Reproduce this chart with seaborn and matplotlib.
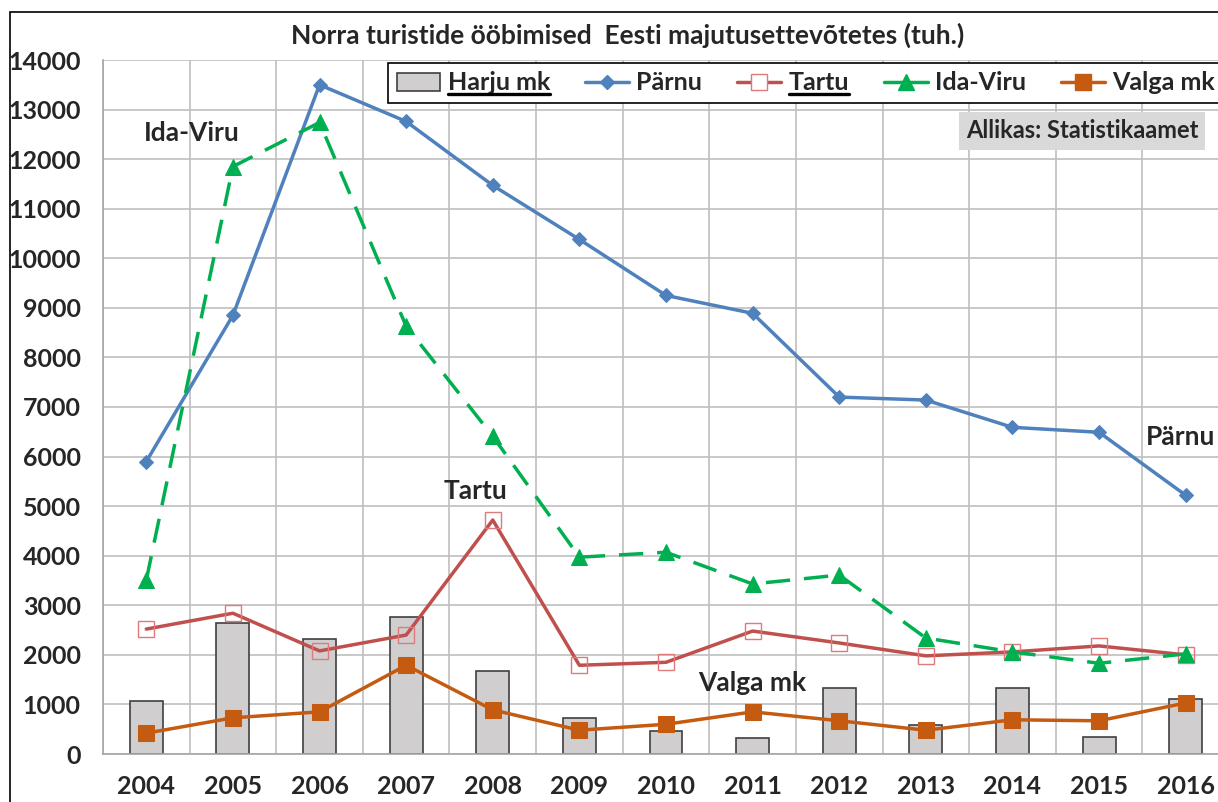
""" Norra turistide ööbimised Eesti majutusettevõtetes."""
import numpy as np
import pandas as pd
import seaborn as sns
import matplotlib.pyplot as plt
from matplotlib.patches import Rectangle, Patch
from matplotlib.lines import Line2D

years = [str(y) for y in range(2004, 2017)]
harju = [1070, 2650, 2320, 2770, 1680, 730, 460, 320, 1340, 585, 1340, 350, 1100]
parnu = [5900, 8850, 13500, 12760, 11470, 10380, 9250, 8890, 7200, 7140, 6590, 6490, 5220]
tartu = [2520, 2840, 2080, 2400, 4720, 1790, 1850, 2480, 2240, 1980, 2060, 2180, 2000]
ida_viru = [3510, 11850, 12740, 8630, 6410, 3970, 4070, 3430, 3610, 2340, 2060, 1830, 2020]
valga = [420, 730, 850, 1790, 890, 480, 600, 850, 670, 480, 690, 670, 1030]

df = pd.DataFrame({'year': years, 'pos': np.arange(len(years)),
                   'Harju mk': harju, 'Pärnu': parnu, 'Tartu': tartu,
                   'Ida-Viru': ida_viru, 'Valga mk': valga})

sns.set_style("white")
plt.rcParams['font.family'] = ['Lato', 'DejaVu Sans']
plt.rcParams['font.weight'] = 'bold'

W, H = 1218, 802
fig = plt.figure(figsize=(W / 100, H / 100), dpi=100)
ax = fig.add_axes([103 / W, 1 - 754 / H, (1229 - 103) / W, (754 - 60) / H])

# bars
sns.barplot(data=df, x='pos', y='Harju mk', native_scale=True, color='#D0CECE',
            saturation=1, width=0.38, edgecolor='#404040', linewidth=1.2, ax=ax)

# lines
sns.lineplot(data=df, x='pos', y='Pärnu', color='#4F81BD', lw=2.5, marker='D',
             markersize=7, markeredgecolor='#4F81BD', ax=ax)
sns.lineplot(data=df, x='pos', y='Tartu', color='#C0504D', lw=2.5, marker='s',
             markersize=11, markerfacecolor='none', markeredgecolor='#E07A7A',
             markeredgewidth=1.0, ax=ax)
sns.lineplot(data=df, x='pos', y='Ida-Viru', color='#00B050', lw=2.5, marker='^',
             markersize=12, markeredgecolor='#00B050', dashes=(7, 4), ax=ax)
sns.lineplot(data=df, x='pos', y='Valga mk', color='#C55A11', lw=2.5, marker='s',
             markersize=11, markeredgecolor='#C55A11', ax=ax)

ax.set_xlim(-0.5, 12.5)
ax.set_ylim(0, 14000)
ax.set_yticks(np.arange(0, 14001, 1000))
ax.set_xticks(np.arange(-0.5, 13, 1))
ax.set_xticklabels([])
ax.set_xticks(np.arange(len(years)), minor=True)
ax.set_xticklabels(years, minor=True)
ax.tick_params(axis='x', which='major', length=6, color='#A6A6A6', width=1)
ax.tick_params(axis='x', which='minor', length=0, pad=15, labelsize=18)
ax.tick_params(axis='y', length=5, color='#A6A6A6', width=1, labelsize=18, pad=11)
for lab in ax.get_xticklabels(minor=True) + ax.get_yticklabels():
    lab.set_fontweight('bold')
ax.grid(True, axis='both', which='major', color='#BFBFBF', lw=1.2)
ax.set_axisbelow(True)
for s in ['top', 'right']:
    ax.spines[s].set_visible(False)
for s in ['left', 'bottom']:
    ax.spines[s].set_color('#A6A6A6')
    ax.spines[s].set_linewidth(1.2)
ax.set_xlabel('')
ax.set_ylabel('')

# series labels on the plot
ax.text(0.52, 12520, 'Ida-Viru', ha='center', va='center', fontsize=19, fontweight='bold')
ax.text(11.94, 6390, 'Pärnu', ha='center', va='center', fontsize=19, fontweight='bold')
ax.text(3.8, 5300, 'Tartu', ha='center', va='center', fontsize=19, fontweight='bold')
ax.text(7.0, 1430, 'Valga mk', ha='center', va='center', fontsize=19, fontweight='bold')

fig.text(628 / W, 1 - 35 / H, 'Norra turistide ööbimised  Eesti majutusettevõtetes (tuh.)',
         ha='center', va='center', fontsize=19, fontweight='bold')
fig.text(966 / W, 1 - 131 / H, 'Allikas: Statistikaamet', ha='left', va='center',
         fontsize=17, fontweight='bold',
         bbox=dict(boxstyle='square,pad=0.3', facecolor='#D9D9D9', edgecolor='none'))

# legend
handles = [
    Patch(facecolor='#D0CECE', edgecolor='#404040', lw=1.2),
    Line2D([], [], color='#4F81BD', lw=2.5, marker='D', markersize=7),
    Line2D([], [], color='#C0504D', lw=2.5, marker='s', markersize=11,
           markerfacecolor='white', markeredgecolor='#E07A7A', markeredgewidth=1.0),
    Line2D([], [], color='#00B050', lw=2.5, marker='^', markersize=12),
    Line2D([], [], color='#C55A11', lw=2.5, marker='s', markersize=11),
]
labels = ['Harju mk', 'Pärnu', 'Tartu', 'Ida-Viru', 'Valga mk']
leg = fig.legend(handles, labels, loc='upper left', ncol=5,
                 bbox_to_anchor=(388 / W, 1 - 63 / H), frameon=True, fancybox=False,
                 edgecolor='black', framealpha=1, prop={'size': 18, 'weight': 'bold'},
                 handlelength=1.75, handletextpad=0.3, columnspacing=1.4,
                 borderpad=0.34, borderaxespad=0)
leg.get_frame().set_linewidth(1.2)

# underline two legend labels
fig.canvas.draw()
renderer = fig.canvas.get_renderer()
for txt in leg.get_texts():
    if txt.get_text() in ('Harju mk', 'Tartu'):
        bb = txt.get_window_extent(renderer)
        yy = (bb.y0 + 0.5) / H
        fig.add_artist(Line2D([bb.x0 / W, bb.x1 / W], [yy, yy], color='black',
                              lw=2.4, transform=fig.transFigure, zorder=10))

# chart border
fig.add_artist(Rectangle((10 / W, -0.1), 1.2, (H - 12) / H + 0.1, fill=False,
                         edgecolor='black', lw=1.2, transform=fig.transFigure))

fig.savefig('out.png', dpi=100)
